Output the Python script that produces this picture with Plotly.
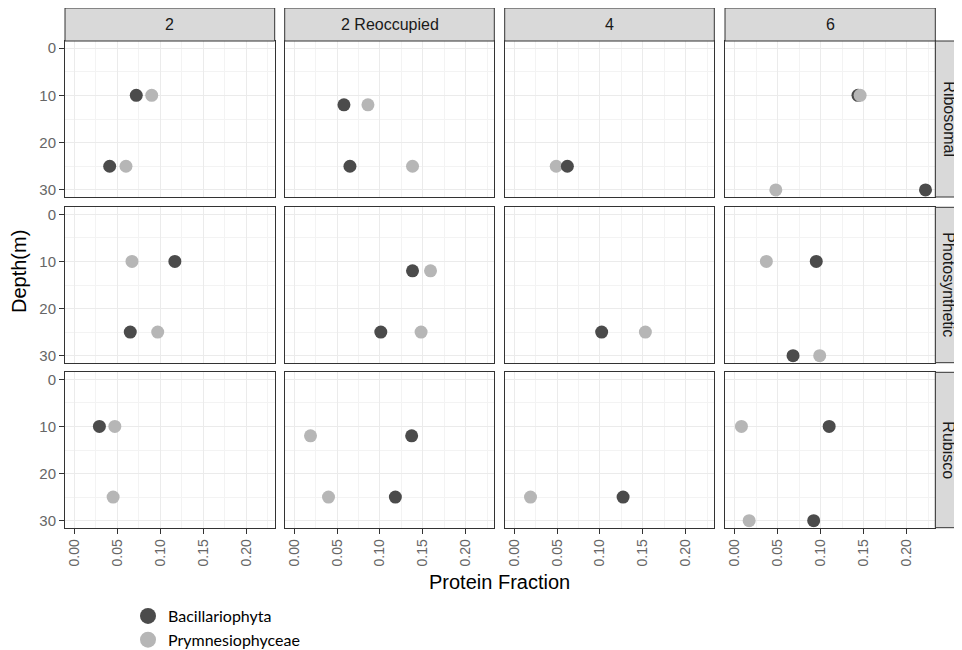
import plotly.graph_objects as go

# page body adds an 8px margin; the figure is sized to fill the rest of the window
PAGE_OFF = 8
W, H = 962 - PAGE_OFF, 650 - PAGE_OFF

stations = ["2", "2 Reoccupied", "4", "6"]
proteins = ["Ribosomal", "Photosynthetic", "Rubisco"]
taxa = ["Bacillariophyta", "Prymnesiophyceae"]
taxon_colors = {"Bacillariophyta": "#4b4b4b", "Prymnesiophyceae": "#b6b6b6"}

# long-format data, in drawing order
obs_station = [
    # Ribosomal
    "2", "2", "2", "2",
    "2 Reoccupied", "2 Reoccupied", "2 Reoccupied", "2 Reoccupied",
    "4", "4",
    "6", "6", "6", "6",
    # Photosynthetic
    "2", "2", "2", "2",
    "2 Reoccupied", "2 Reoccupied", "2 Reoccupied", "2 Reoccupied",
    "4", "4",
    "6", "6", "6", "6",
    # Rubisco
    "2", "2", "2",
    "2 Reoccupied", "2 Reoccupied", "2 Reoccupied", "2 Reoccupied",
    "4", "4",
    "6", "6", "6", "6",
]
obs_protein = (["Ribosomal"] * 14) + (["Photosynthetic"] * 14) + (["Rubisco"] * 13)
obs_taxon = [
    "Bacillariophyta", "Prymnesiophyceae", "Bacillariophyta", "Prymnesiophyceae",
    "Bacillariophyta", "Prymnesiophyceae", "Bacillariophyta", "Prymnesiophyceae",
    "Prymnesiophyceae", "Bacillariophyta",
    "Bacillariophyta", "Prymnesiophyceae", "Bacillariophyta", "Prymnesiophyceae",

    "Bacillariophyta", "Prymnesiophyceae", "Bacillariophyta", "Prymnesiophyceae",
    "Bacillariophyta", "Prymnesiophyceae", "Bacillariophyta", "Prymnesiophyceae",
    "Bacillariophyta", "Prymnesiophyceae",
    "Bacillariophyta", "Prymnesiophyceae", "Bacillariophyta", "Prymnesiophyceae",

    "Bacillariophyta", "Prymnesiophyceae", "Prymnesiophyceae",
    "Bacillariophyta", "Prymnesiophyceae", "Bacillariophyta", "Prymnesiophyceae",
    "Bacillariophyta", "Prymnesiophyceae",
    "Bacillariophyta", "Prymnesiophyceae", "Bacillariophyta", "Prymnesiophyceae",
]
obs_depth = [
    10, 10, 25, 25,
    12, 12, 25, 25,
    25, 25,
    10, 10, 30, 30,

    10, 10, 25, 25,
    12, 12, 25, 25,
    25, 25,
    10, 10, 30, 30,

    10, 10, 25,
    12, 12, 25, 25,
    25, 25,
    10, 10, 30, 30,
]
obs_fraction = [
    0.072, 0.090, 0.041, 0.060,
    0.058, 0.086, 0.065, 0.138,
    0.049, 0.062,
    0.1435, 0.146, 0.222, 0.048,

    0.117, 0.067, 0.065, 0.097,
    0.138, 0.159, 0.101, 0.148,
    0.102, 0.153,
    0.095, 0.037, 0.068, 0.099,

    0.029, 0.047, 0.045,
    0.137, 0.019, 0.118, 0.040,
    0.127, 0.019,
    0.110, 0.008, 0.092, 0.017,
]

x_ticks = [0.00, 0.05, 0.10, 0.15, 0.20]
y_ticks = [0, 10, 20, 30]

# ---- layout geometry (window pixels) ----
col_px = [(65, 274.7), (284.7, 494.3), (504.7, 714.3), (725, 935.3)]
row_px = [(41, 197), (207.3, 362.7), (372.3, 527.7)]
strip_top = 8
strip_right = 975

def px_x(p):
    return (p - PAGE_OFF) / W

def px_y(p):
    return 1 - (p - PAGE_OFF) / H

x_range = [-0.0111, 0.2334]
y_range = [31.5, -1.5]

fig = go.Figure()
layout = {}
shapes = []
annotations = []

grid_major = "#ebebeb"
grid_minor = "#f3f3f3"
border = "#333333"
tickfont = dict(family="Liberation Sans, Arial, sans-serif", size=14, color="#666666")

for r, prot in enumerate(proteins):
    for c, st in enumerate(stations):
        k = r * 4 + c + 1
        xa = "xaxis" if k == 1 else f"xaxis{k}"
        ya = "yaxis" if k == 1 else f"yaxis{k}"
        xref = "x" if k == 1 else f"x{k}"
        yref = "y" if k == 1 else f"y{k}"
        bottom = r == len(proteins) - 1
        left = c == 0
        layout[xa] = dict(
            domain=[px_x(col_px[c][0]), px_x(col_px[c][1])],
            anchor=yref, range=x_range, automargin=False,
            tickvals=x_ticks, ticktext=[f"{v:.2f}" for v in x_ticks],
            showticklabels=bottom, ticks="outside" if bottom else "",
            ticklen=5, tickcolor=border, tickangle=-90, tickfont=tickfont,
            showgrid=True, gridcolor=grid_major, gridwidth=1,
            minor=dict(dtick=0.025, tick0=0, showgrid=True, gridcolor=grid_minor, gridwidth=1, ticks=""),
            showline=True, mirror=True, linecolor=border, linewidth=1,
            zeroline=False, fixedrange=True,
        )
        layout[ya] = dict(
            domain=[px_y(row_px[r][1]), px_y(row_px[r][0])],
            anchor=xref, range=y_range, automargin=False,
            tickvals=y_ticks,
            showticklabels=left, ticks="outside" if left else "",
            ticklen=5, tickcolor=border, tickfont=dict(tickfont, size=15),
            showgrid=True, gridcolor=grid_major, gridwidth=1,
            minor=dict(dtick=5, tick0=0, showgrid=True, gridcolor=grid_minor, gridwidth=1, ticks=""),
            showline=True, mirror=True, linecolor=border, linewidth=1,
            zeroline=False, fixedrange=True,
        )
        # points in this facet, drawn one by one in data order
        idx = [i for i in range(len(obs_station)) if obs_station[i] == st and obs_protein[i] == prot]
        for i in idx:
            fig.add_trace(go.Scatter(
                x=[obs_fraction[i]], y=[obs_depth[i]], xaxis=xref, yaxis=yref,
                mode="markers",
                marker=dict(size=13, color=taxon_colors[obs_taxon[i]], line=dict(width=0)),
                name=obs_taxon[i], legendgroup=obs_taxon[i], showlegend=False,
                hovertemplate="%{x}, %{y}<extra>" + obs_taxon[i] + "</extra>",
            ))

# legend entries
for t in taxa:
    fig.add_trace(go.Scatter(
        x=[None], y=[None], mode="markers", name=t, legendgroup=t,
        marker=dict(size=18, color=taxon_colors[t]), showlegend=True,
    ))

strip_font = dict(family="Liberation Sans, Arial, sans-serif", size=16, color="#1a1a1a")
for c, st in enumerate(stations):
    shapes.append(dict(type="rect", xref="paper", yref="paper",
                       x0=px_x(col_px[c][0]), x1=px_x(col_px[c][1]),
                       y0=px_y(row_px[0][0]), y1=px_y(strip_top),
                       fillcolor="#d9d9d9", line=dict(color=border, width=1), layer="above"))
    annotations.append(dict(text=st, xref="paper", yref="paper",
                            x=px_x((col_px[c][0] + col_px[c][1]) / 2),
                            y=px_y((strip_top + row_px[0][0]) / 2),
                            showarrow=False, font=strip_font, xanchor="center", yanchor="middle"))
for r, prot in enumerate(proteins):
    shapes.append(dict(type="rect", xref="paper", yref="paper",
                       x0=px_x(col_px[-1][1]), x1=px_x(strip_right),
                       y0=px_y(row_px[r][1]), y1=px_y(row_px[r][0]),
                       fillcolor="#d9d9d9", line=dict(color=border, width=1), layer="above"))
    annotations.append(dict(text=prot, xref="paper", yref="paper",
                            x=px_x((col_px[-1][1] + 962) / 2),
                            y=px_y((row_px[r][0] + row_px[r][1]) / 2),
                            textangle=90, showarrow=False, font=strip_font,
                            xanchor="center", yanchor="middle"))

title_font = dict(family="Liberation Sans, Arial, sans-serif", size=20, color="#000000")
annotations.append(dict(text="Depth(m)", xref="paper", yref="paper",
                        x=px_x(19), y=px_y(272), textangle=-90, showarrow=False,
                        font=title_font, xanchor="center", yanchor="middle"))
annotations.append(dict(text="Protein Fraction", xref="paper", yref="paper",
                        x=px_x(499), y=px_y(582), showarrow=False,
                        font=title_font, xanchor="center", yanchor="middle"))

fig.update_layout(
    width=W, height=H,
    margin=dict(l=0, r=0, t=0, b=0, autoexpand=False),
    paper_bgcolor="white", plot_bgcolor="white",
    shapes=shapes, annotations=annotations,
    showlegend=True,
    legend=dict(x=px_x(128), y=px_y(599), xanchor="left", yanchor="top",
                font=dict(family="Lato, Open Sans, sans-serif", size=16, color="#000000"),
                bgcolor="rgba(0,0,0,0)", itemsizing="trace", tracegroupgap=0,
                borderwidth=0),
    **layout,
)

fig.write_html("out.html")
